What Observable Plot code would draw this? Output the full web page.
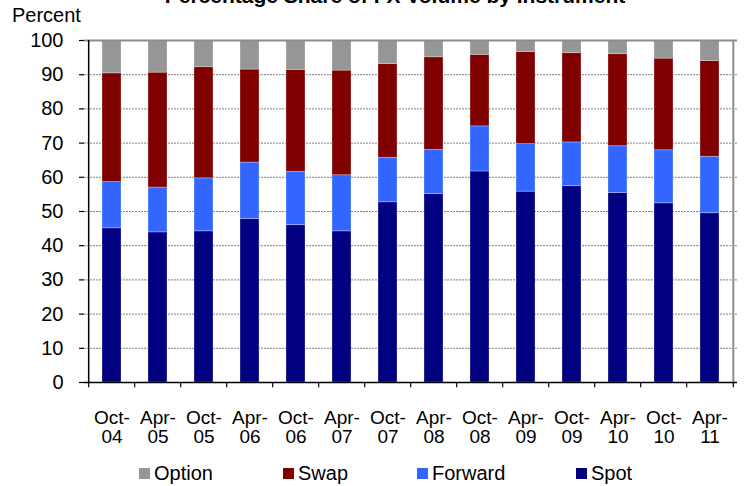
<!DOCTYPE html>
<html>
<head>
<meta charset="utf-8">
<script src="https://cdn.jsdelivr.net/npm/d3@7"></script>
<script src="https://cdn.jsdelivr.net/npm/@observablehq/plot@0.6"></script>
<style>
  html, body { margin: 0; padding: 0; background: #fff; }
  #wrap { position: relative; width: 749px; height: 486px; overflow: hidden; font-family: "Liberation Sans", Arial, sans-serif; color: #000; }
  #chart { position: absolute; left: 0; top: 0; }
  .title { position: absolute; left: 0; width: 790px; top: -15px; text-align: center; font-weight: bold; font-size: 21px; line-height: 21px; white-space: nowrap; }
  .ylab { position: absolute; left: 12px; top: 5px; font-size: 20px; line-height: 20px; }
  .leg { position: absolute; top: 463px; font-size: 20px; line-height: 20px; white-space: nowrap; }
  .leg .sw { position: absolute; left: 0; top: 5px; width: 11px; height: 11px; }
  .leg .tx { position: absolute; left: 15px; top: 0; }
</style>
</head>
<body>
<div id="wrap">
  <div id="chart"></div>
  <div class="title">Percentage Share of FX Volume by Instrument</div>
  <div class="ylab">Percent</div>
  <div id="legend"></div>
</div>
<script>
const categories = ["Oct-04","Apr-05","Oct-05","Apr-06","Oct-06","Apr-07","Oct-07","Apr-08","Oct-08","Apr-09","Oct-09","Apr-10","Oct-10","Apr-11"];
const spot    = [45.1, 43.9, 44.2, 47.8, 46.0, 44.2, 52.7, 55.1, 61.7, 55.8, 57.4, 55.4, 52.4, 49.5];
const forward = [13.5, 13.1, 15.5, 16.5, 15.6, 16.4, 13.0, 12.9, 13.2, 13.9, 12.8, 13.7, 15.5, 16.5];
const swap    = [31.8, 33.6, 32.5, 27.2, 29.8, 30.6, 27.4, 27.1, 20.9, 26.9, 26.1, 26.9, 26.8, 28.0];
const option  = [9.6, 9.4, 7.8, 8.5, 8.6, 8.8, 6.9, 4.9, 4.2, 3.4, 3.7, 4.0, 5.3, 6.0];
const seriesNames = ["Spot", "Forward", "Swap", "Option"];
const legendNames = ["Option", "Swap", "Forward", "Spot"];
const seriesColors = {Option: "#969696", Swap: "#800000", Forward: "#3366FF", Spot: "#000080"};
const yTicks = [0, 10, 20, 30, 40, 50, 60, 70, 80, 90, 100];
const gridValues = [10, 20, 30, 40, 50, 60, 70, 80, 90];

const seriesValues = {Spot: spot, Forward: forward, Swap: swap, Option: option};
const data = [];
seriesNames.forEach(s => categories.forEach((c, i) => data.push({cat: c, series: s, value: seriesValues[s][i]})));

const W = 749, H = 486, mL = 84, mR = 12, mT = 40, mB = 104;
const step = (W - mL - mR) / categories.length;

const chart = Plot.plot({
  width: W, height: H,
  marginLeft: mL, marginRight: mR, marginTop: mT, marginBottom: mB,
  style: {fontFamily: '"Liberation Sans", Arial, sans-serif', fontSize: "20px", color: "#000", background: "transparent", overflow: "visible"},
  x: {domain: categories, paddingInner: 0.59, paddingOuter: 0.295, align: 0.5, label: null},
  y: {domain: [0, 100], label: null},
  color: {domain: legendNames, range: legendNames.map(n => seriesColors[n])},
  marks: [
    Plot.ruleY(gridValues, {y: d => d, stroke: "#808080", strokeWidth: 1, strokeDasharray: "2,1"}),
    Plot.barY(data, Plot.stackY({x: "cat", y: "value", fill: "series", order: seriesNames, stroke: "#ffffff", strokeOpacity: 0.35, strokeWidth: 0.8})),
    Plot.ruleY([100], {stroke: "#8c8c8c", strokeWidth: 2}),
    Plot.ruleX([categories[categories.length - 1]], {dx: step / 2, y1: 0, y2: 100, stroke: "#8c8c8c", strokeWidth: 2}),
    Plot.ruleX([categories[0]], {dx: -step / 2, y1: 0, y2: 100, stroke: "#000", strokeWidth: 1.5}),
    Plot.ruleY([0], {stroke: "#000", strokeWidth: 1.5}),
    Plot.ruleX(categories, {dx: -step / 2, y1: 0, y2: -1.5, stroke: "#000", strokeWidth: 1.2}),
    Plot.ruleX([categories[categories.length - 1]], {dx: step / 2, y1: 0, y2: -1.5, stroke: "#000", strokeWidth: 1.2}),
    Plot.axisY({ticks: yTicks, tickSize: 5, tickPadding: 16, fontSize: 20, stroke: "#000", strokeWidth: 1.2, tickFormat: d => String(d)}),
    Plot.axisX({tickSize: 0, tickPadding: 28, fontSize: 19, lineHeight: 1.0, tickFormat: d => d.replace("-", "-\n")})
  ]
});
document.getElementById("chart").appendChild(chart);

const legendX = [139, 283, 417, 576];
const legend = document.getElementById("legend");
legendNames.forEach((n, i) => {
  const item = document.createElement("div");
  item.className = "leg";
  item.style.left = legendX[i] + "px";
  const sw = document.createElement("div");
  sw.className = "sw";
  sw.style.background = seriesColors[n];
  const tx = document.createElement("div");
  tx.className = "tx";
  tx.textContent = n;
  item.appendChild(sw);
  item.appendChild(tx);
  legend.appendChild(item);
});
</script>
</body>
</html>
